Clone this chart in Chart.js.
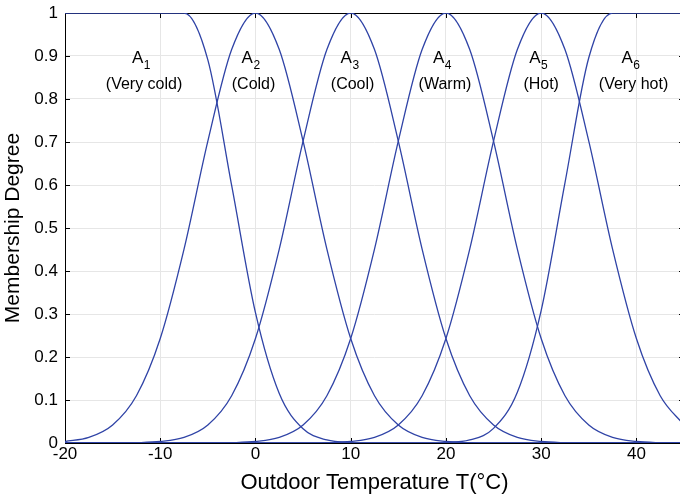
<!DOCTYPE html>
<html>
<head>
<meta charset="utf-8">
<script src="https://cdn.jsdelivr.net/npm/chart.js@4.4.0/dist/chart.umd.min.js"></script>
<style>
html, body { margin: 0; padding: 0; background: #fff; overflow: hidden; }
</style>
</head>
<body>
<canvas id="chart" width="684" height="502"></canvas>
<script>
// outdoor temperature samples (°C)
const temps = [-20, -17.5, -15, -12.5, -10, -7.5, -5, -2.5, 0, 2.5, 5, 7.5, 10, 12.5, 15, 17.5, 20, 22.5, 25, 27.5, 30, 32.5, 35, 37.5, 40, 42.5, 45];

// membership degree of each fuzzy set
const a1 = [1, 1, 1, 1, 1, 1, 0.891, 0.599, 0.303, 0.115, 0.033, 0.007, 0.001, 0, 0, 0, 0, 0, 0, 0, 0, 0, 0, 0, 0, 0, 0];
const a2 = [0.0035, 0.013, 0.042, 0.11, 0.243, 0.451, 0.702, 0.915, 1, 0.915, 0.702, 0.451, 0.243, 0.11, 0.042, 0.013, 0.0035, 0.0008, 0.0001, 0, 0, 0, 0, 0, 0, 0, 0];
const a3 = [0, 0, 0.0001, 0.0008, 0.0035, 0.013, 0.042, 0.11, 0.243, 0.451, 0.702, 0.915, 1, 0.915, 0.702, 0.451, 0.243, 0.11, 0.042, 0.013, 0.0035, 0.0008, 0.0001, 0, 0, 0, 0];
const a4 = [0, 0, 0, 0, 0, 0, 0.0001, 0.0008, 0.0035, 0.013, 0.042, 0.11, 0.243, 0.451, 0.702, 0.915, 1, 0.915, 0.702, 0.451, 0.243, 0.11, 0.042, 0.013, 0.0035, 0.0008, 0.0001];
const a5 = [0, 0, 0, 0, 0, 0, 0, 0, 0, 0, 0.0001, 0.0008, 0.0035, 0.013, 0.042, 0.11, 0.243, 0.451, 0.702, 0.915, 1, 0.915, 0.702, 0.451, 0.243, 0.11, 0.042];
const a6 = [0, 0, 0, 0, 0, 0, 0, 0, 0, 0, 0, 0, 0, 0, 0, 0.0002, 0.001, 0.007, 0.034, 0.118, 0.308, 0.605, 0.896, 1, 1, 1, 1];

const setSubs = ['1', '2', '3', '4', '5', '6'];
const setNames = ['(Very cold)', '(Cold)', '(Cool)', '(Warm)', '(Hot)', '(Very hot)'];

const FONT = "'Liberation Sans', Arial, Helvetica, sans-serif";
const LINE = '#2f43a6';

const series = [a1, a2, a3, a4, a5, a6];
const datasets = series.map((vals, i) => ({
    label: 'A' + setSubs[i],
    data: temps.map((t, j) => ({ x: t, y: vals[j] })),
    borderColor: LINE,
    borderWidth: 1.3,
    pointRadius: 0,
    fill: false,
    cubicInterpolationMode: 'monotone'
}));

// box round the plot and MATLAB-like inward ticks
const framePlugin = {
    id: 'frame',
    beforeDatasetsDraw(chart) {
        const { ctx, chartArea: a, scales } = chart;
        ctx.save();
        ctx.strokeStyle = '#000';
        ctx.lineWidth = 1;
        ctx.strokeRect(a.left + 0.5, a.top + 0.5, a.right - a.left - 1, a.bottom - a.top);
        const len = 5;
        ctx.beginPath();
        scales.x.ticks.forEach(t => {
            const px = Math.round(scales.x.getPixelForValue(t.value)) + 0.5;
            ctx.moveTo(px, a.bottom); ctx.lineTo(px, a.bottom - len);
            ctx.moveTo(px, a.top); ctx.lineTo(px, a.top + len);
        });
        scales.y.ticks.forEach(t => {
            const py = Math.round(scales.y.getPixelForValue(t.value)) + 0.5;
            ctx.moveTo(a.left, py); ctx.lineTo(a.left + len, py);
            ctx.moveTo(a.right, py); ctx.lineTo(a.right - len, py);
        });
        ctx.stroke();
        ctx.restore();
    }
};

// set names written inside the plot
const namesPlugin = {
    id: 'setNames',
    afterDatasetsDraw(chart) {
        const { ctx, scales } = chart;
        const centres = [-11.7, -0.2, 10.2, 19.9, 30.0, 39.7];
        ctx.save();
        ctx.fillStyle = '#000';
        centres.forEach((c, i) => {
            const px = scales.x.getPixelForValue(c);
            const yA = scales.y.getPixelForValue(0.884);
            const yN = scales.y.getPixelForValue(0.833);
            ctx.font = '17px ' + FONT;
            const wA = ctx.measureText('A').width;
            ctx.font = '12px ' + FONT;
            const wS = ctx.measureText(setSubs[i]).width;
            const x0 = px - (wA + wS) / 2 - 3;
            ctx.textAlign = 'left';
            ctx.textBaseline = 'alphabetic';
            ctx.font = '17px ' + FONT;
            ctx.fillText('A', x0, yA);
            ctx.font = '12px ' + FONT;
            ctx.fillText(setSubs[i], x0 + wA + 0.5, yA + 6);
            ctx.font = '16px ' + FONT;
            ctx.textAlign = 'center';
            ctx.textBaseline = 'middle';
            ctx.fillText(setNames[i], px, yN);
        });
        ctx.restore();
    }
};

new Chart(document.getElementById('chart').getContext('2d'), {
    type: 'line',
    data: { datasets: datasets },
    options: {
        responsive: false,
        animation: false,
        layout: { padding: { top: 13, right: 0, bottom: 0, left: 0 } },
        plugins: { legend: { display: false }, tooltip: { enabled: false } },
        scales: {
            x: {
                type: 'linear',
                min: -20,
                max: 45,
                ticks: { stepSize: 10, includeBounds: false, color: '#000', padding: 1, maxRotation: 0, font: { family: FONT, size: 17 } },
                grid: { color: '#e6e6e6', drawTicks: false },
                border: { display: false },
                title: { display: true, text: 'Outdoor Temperature T(°C)', color: '#000', font: { family: FONT, size: 22 }, padding: { top: 0, bottom: 6 } },
                afterFit: (s) => { s.height = 59; }
            },
            y: {
                min: 0,
                max: 1,
                ticks: { stepSize: 0.1, color: '#000', padding: 7, font: { family: FONT, size: 17 },
                    callback: (v) => String(+v.toFixed(1)) },
                grid: { color: '#e6e6e6', drawTicks: false },
                border: { display: false },
                title: { display: true, text: 'Membership Degree', color: '#000', font: { family: FONT, size: 21 }, padding: { top: 1, bottom: 0 } },
                afterFit: (s) => { s.width = 65; s.paddingTop = 0; s.paddingBottom = 0; }
            }
        }
    },
    plugins: [framePlugin, namesPlugin]
});
</script>
</body>
</html>
